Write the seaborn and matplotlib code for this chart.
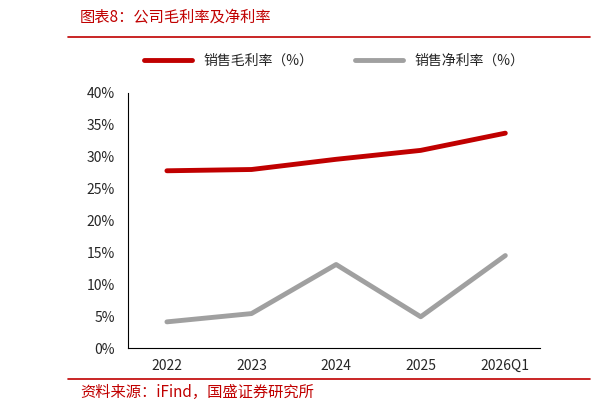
import matplotlib
matplotlib.use("Agg")
import matplotlib.pyplot as plt
import seaborn as sns
import pandas as pd

sns.set_theme(style="white")
plt.rcParams['font.family'] = ['Noto Sans CJK SC', 'DejaVu Sans']

years = ["2022", "2023", "2024", "2025", "2026Q1"]
gross = [27.8, 28.0, 29.6, 31.0, 33.7]
net = [4.1, 5.4, 13.1, 4.9, 14.5]

df = pd.DataFrame({"year": years * 2, "value": gross + net,
                   "series": ["销售毛利率（%）"] * 5 + ["销售净利率（%）"] * 5})

fig = plt.figure(figsize=(6.12, 4.11), dpi=100)
ax = fig.add_axes([128/612, 1-348/411, 412/612, 255/411])
sns.lineplot(data=df, x="year", y="value", hue="series", sort=False,
             palette=["#C00000", "#A0A0A0"], linewidth=3.5, ax=ax)
ax.set_ylim(0, 40)
ax.set_xlim(-0.46, 4.41)
ax.set_yticks(range(0, 41, 5))
ax.set_yticklabels([f"{v}%" for v in range(0, 41, 5)], fontsize=10)
ax.tick_params(axis='x', labelsize=10, length=0, pad=8)
ax.set_xlabel(""); ax.set_ylabel("")
for s in ["top", "right"]:
    ax.spines[s].set_visible(False)
for s in ["left", "bottom"]:
    ax.spines[s].set_color("black"); ax.spines[s].set_linewidth(0.8)
ax.legend(loc="lower center", bbox_to_anchor=(0.5, 1.05), ncol=2, frameon=False,
          fontsize=10, handlelength=3.5, columnspacing=3)

fig.text(80/612, 1-17/411, "图表8：公司毛利率及净利率", color="#C00000", fontsize=11,
         style="italic", va="center")
fig.add_artist(plt.Line2D([68/612, 590/612], [1-37/411, 1-37/411], color="#C00000", lw=1.2))
fig.add_artist(plt.Line2D([68/612, 590/612], [1-379/411, 1-379/411], color="#C00000", lw=1.2))
fig.text(80/612, 1-392/411, "资料来源：iFind，国盛证券研究所", color="#C00000", fontsize=11,
         style="italic", va="center")
fig.savefig("out.png", dpi=100)
